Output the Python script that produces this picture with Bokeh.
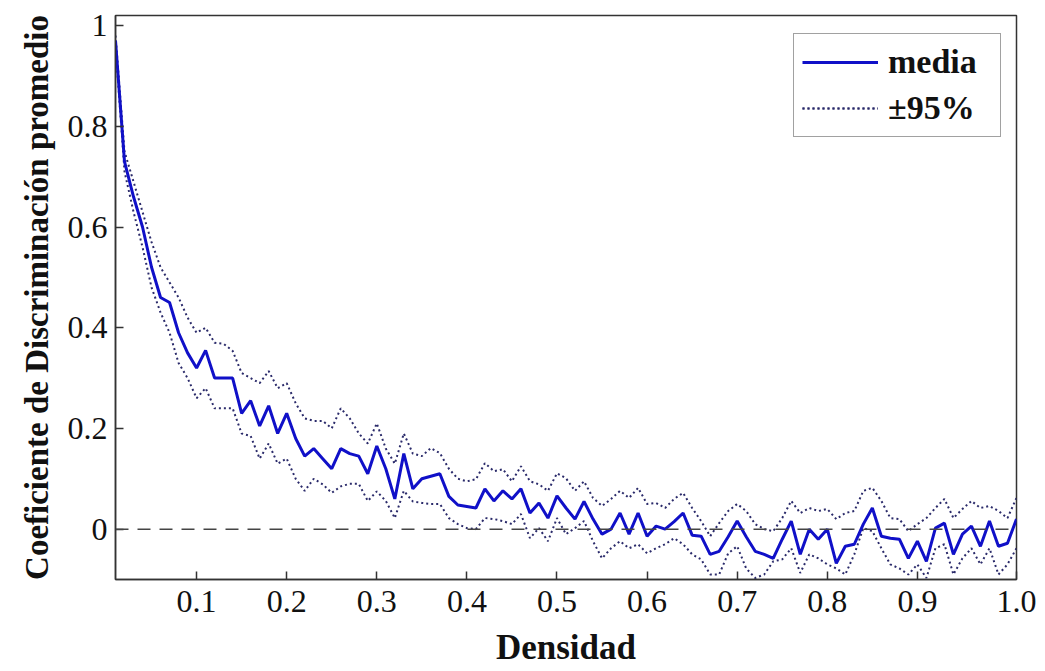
from bokeh.plotting import figure
from bokeh.models import Range1d, FixedTicker, Span, Legend, LegendItem
from bokeh.embed import file_html
from bokeh.resources import INLINE

# ---------------- data ----------------
density = [round(0.01 * i, 2) for i in range(1, 102)]

media = [
    0.97, 0.73, 0.66, 0.60, 0.52, 0.46, 0.45, 0.39, 0.35, 0.32,
    0.355, 0.30, 0.30, 0.30, 0.23, 0.255, 0.205, 0.245, 0.19, 0.23,
    0.18, 0.145, 0.16, 0.14, 0.12, 0.16, 0.15, 0.145, 0.11, 0.165,
    0.12, 0.06, 0.15, 0.08, 0.10, 0.105, 0.11, 0.065, 0.048, 0.045,
    0.042, 0.08, 0.056, 0.076, 0.06, 0.08, 0.032, 0.052, 0.022, 0.066,
    0.042, 0.02, 0.055, 0.02, -0.01, 0.0, 0.032, -0.01, 0.032, -0.014,
    0.006, 0.0, 0.015, 0.032, -0.012, -0.014, -0.05, -0.044, -0.015, 0.016,
    -0.015, -0.044, -0.05, -0.058, -0.02, 0.016, -0.05, 0.0, -0.02, 0.0,
    -0.068, -0.034, -0.03, 0.01, 0.042, -0.014, -0.018, -0.02, -0.058, -0.024,
    -0.064, 0.002, 0.012, -0.05, -0.01, 0.006, -0.034, 0.016, -0.034, -0.028,
    0.02,
]

upper95 = [
    0.98, 0.75, 0.69, 0.63, 0.57, 0.52, 0.49, 0.46, 0.42, 0.39,
    0.40, 0.37, 0.368, 0.354, 0.31, 0.30, 0.29, 0.314, 0.28, 0.29,
    0.25, 0.22, 0.215, 0.215, 0.20, 0.24, 0.22, 0.19, 0.17, 0.21,
    0.16, 0.13, 0.19, 0.15, 0.145, 0.161, 0.151, 0.12, 0.10, 0.095,
    0.099, 0.131, 0.115, 0.119, 0.095, 0.125, 0.095, 0.089, 0.076, 0.111,
    0.101, 0.076, 0.095, 0.062, 0.046, 0.06, 0.076, 0.062, 0.082, 0.05,
    0.052, 0.042, 0.06, 0.072, 0.042, 0.016, -0.014, 0.012, 0.036, 0.05,
    0.036, 0.01, 0.0, -0.004, 0.022, 0.056, 0.032, 0.042, 0.036, 0.04,
    0.02, 0.032, 0.036, 0.076, 0.082, 0.056, 0.022, 0.02, -0.004, 0.01,
    0.022, 0.042, 0.06, 0.022, 0.04, 0.056, 0.042, 0.046, 0.036, 0.022,
    0.062,
]

lower95 = [
    0.96, 0.71, 0.63, 0.56, 0.48, 0.43, 0.39, 0.33, 0.30, 0.26,
    0.28, 0.24, 0.24, 0.24, 0.19, 0.185, 0.14, 0.17, 0.13, 0.14,
    0.10, 0.076, 0.10, 0.089, 0.072, 0.085, 0.09, 0.09, 0.056, 0.075,
    0.056, 0.022, 0.076, 0.055, 0.052, 0.05, 0.05, 0.022, 0.01, 0.002,
    0.0, 0.022, 0.02, 0.016, 0.01, 0.03, -0.018, 0.002, -0.024, 0.022,
    -0.01, 0.002, 0.016, -0.024, -0.058, -0.038, -0.024, -0.038, -0.03, -0.048,
    -0.038, -0.03, -0.018, -0.03, -0.05, -0.06, -0.09, -0.09, -0.048, -0.034,
    -0.078, -0.097, -0.09, -0.064, -0.06, -0.038, -0.087, -0.05, -0.058, -0.07,
    -0.078, -0.09, -0.05, 0.002, -0.004, -0.038, -0.07, -0.078, -0.09, -0.07,
    -0.097, -0.038, -0.03, -0.09, -0.058, -0.038, -0.07, -0.038, -0.09, -0.07,
    -0.038,
]

x_ticks = [0.1, 0.2, 0.3, 0.4, 0.5, 0.6, 0.7, 0.8, 0.9, 1.01]
x_tick_labels = {1.01: "1.0"}
y_ticks = [0, 0.2, 0.4, 0.6, 0.8, 1]
y_tick_labels = {0: "0", 1: "1"}

# ---------------- figure ----------------
FONT = "Liberation Serif"
AX = "#333333"

p = figure(width=1045, height=671, output_backend="svg", toolbar_location=None,
           x_range=Range1d(0.01, 1.01), y_range=Range1d(-0.1, 1.02),
           min_border_left=115, min_border_right=29, min_border_top=15,
           min_border_bottom=92)
p.grid.visible = False
p.outline_line_color = AX
p.outline_line_width = 1.5
p.background_fill_color = "white"
p.border_fill_color = "white"

for ax in (p.xaxis[0], p.yaxis[0]):
    ax.axis_line_color = AX
    ax.axis_line_width = 1.5
    ax.major_tick_in = 8
    ax.major_tick_out = 0
    ax.major_tick_line_color = AX
    ax.major_tick_line_width = 1.5
    ax.minor_tick_line_color = None
    ax.major_label_text_font = FONT
    ax.major_label_text_font_size = "32px"
    ax.major_label_text_color = "#111111"
    ax.axis_label_text_font = FONT
    ax.axis_label_text_font_style = "bold"
    ax.axis_label_text_color = "#111111"

p.xaxis[0].axis_label_text_font_size = "35px"
p.yaxis[0].axis_label_text_font_size = "33px"

p.xaxis[0].ticker = FixedTicker(ticks=x_ticks)
p.xaxis[0].major_label_overrides = x_tick_labels
p.xaxis[0].major_label_standoff = 11
p.xaxis[0].axis_label = "Densidad"
p.xaxis[0].axis_label_standoff = 13

p.yaxis[0].ticker = FixedTicker(ticks=y_ticks)
p.yaxis[0].major_label_overrides = y_tick_labels
p.yaxis[0].major_label_standoff = 8
p.yaxis[0].axis_label = "Coeficiente de Discriminación promedio"
p.yaxis[0].axis_label_standoff = 10

# zero reference line
p.add_layout(Span(location=0, dimension="width", line_color="#444444",
                  line_width=1.5, line_dash="13 9"))

r_up = p.line(density, upper95, line_color="#2a2a6a", line_width=2, line_dash="2 3")
r_lo = p.line(density, lower95, line_color="#2a2a6a", line_width=2, line_dash="2 3")
r_mean = p.line(density, media, line_color="#1010c8", line_width=3)

legend = Legend(items=[LegendItem(label="media", renderers=[r_mean]),
                       LegendItem(label="±95%", renderers=[r_up, r_lo])],
                location=(678, 442))
legend.label_text_font = FONT
legend.label_text_font_style = "bold"
legend.label_text_font_size = "34px"
legend.label_text_color = "#111111"
legend.glyph_width = 76
legend.glyph_height = 40
legend.label_height = 40
legend.label_width = 104
legend.label_standoff = 10
legend.spacing = 6
legend.padding = 8
legend.margin = 0
legend.border_line_color = "#444444"
legend.border_line_width = 1.5
legend.background_fill_alpha = 1.0
p.add_layout(legend, "center")

open("out.html", "w").write(file_html(p, INLINE))
